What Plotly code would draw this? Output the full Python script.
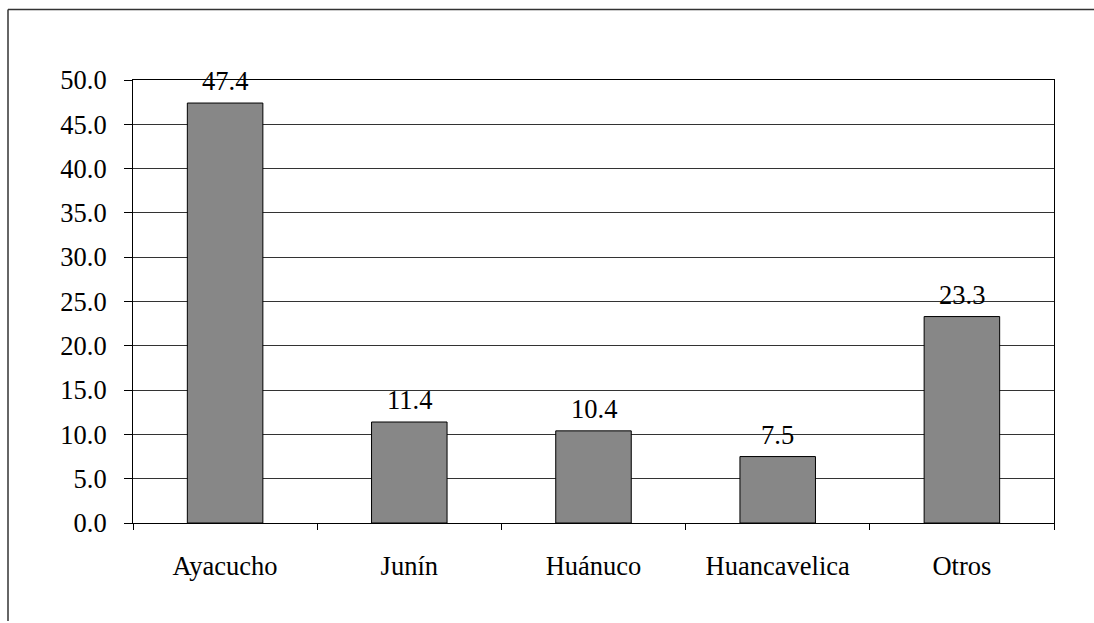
import plotly.graph_objects as go

# Departamentos y porcentajes
categorias = ["Ayacucho", "Junín", "Huánuco", "Huancavelica", "Otros"]
valores = [47.4, 11.4, 10.4, 7.5, 23.3]
ticks_y = [0, 5, 10, 15, 20, 25, 30, 35, 40, 45, 50]

W, H = 1094, 623
ML, MR, MT, MB = 133, 40, 80, 100
FONT = "Liberation Serif, Times New Roman, serif"
FS = 26.5

fig = go.Figure()
fig.add_trace(go.Bar(
    x=categorias,
    y=valores,
    width=0.41,
    marker=dict(color="#878787", line=dict(color="#000000", width=1)),
    hoverinfo="skip",
))

# Value labels above each bar
for c, v in zip(categorias, valores):
    fig.add_annotation(
        x=c, y=v, text=f"{v:.1f}", showarrow=False,
        yanchor="bottom", yshift=5,
        font=dict(family=FONT, size=FS, color="#000000"),
    )

# Outer frame: left and top edges of the chart area
pw, ph = W - ML - MR, H - MT - MB
def px_x(p):
    return (p - ML) / pw
def px_y(p):
    return (H - MB - p) / ph

fig.add_shape(type="line", xref="paper", yref="paper",
              x0=px_x(8), x1=px_x(W), y0=px_y(9.5), y1=px_y(9.5),
              line=dict(color="#333333", width=1.5))
fig.add_shape(type="line", xref="paper", yref="paper",
              x0=px_x(8), x1=px_x(8), y0=px_y(9.5), y1=px_y(621),
              line=dict(color="#333333", width=1.5))

fig.update_layout(
    width=W, height=H,
    margin=dict(l=ML, r=MR, t=MT, b=MB),
    paper_bgcolor="white", plot_bgcolor="white",
    showlegend=False,
    font=dict(family=FONT, size=FS, color="#000000"),
)
fig.update_xaxes(
    type="category",
    range=[-0.5, 4.5],
    showline=True, linecolor="#000000", linewidth=1, mirror=True,
    ticks="outside", tickson="boundaries", ticklen=6, tickcolor="#000000",
    showgrid=False,
    tickfont=dict(family=FONT, size=FS, color="#000000"),
    ticklabelstandoff=19,
)
fig.update_yaxes(
    range=[0, 50],
    tickvals=ticks_y,
    tickformat=".1f",
    showline=True, linecolor="#000000", linewidth=1, mirror=True,
    ticks="outside", ticklen=8, tickcolor="#000000",
    showgrid=True, gridcolor="#333333", gridwidth=1,
    zeroline=False,
    tickfont=dict(family=FONT, size=FS, color="#000000"),
    ticklabelstandoff=12,
)

fig.write_html("out.html")
